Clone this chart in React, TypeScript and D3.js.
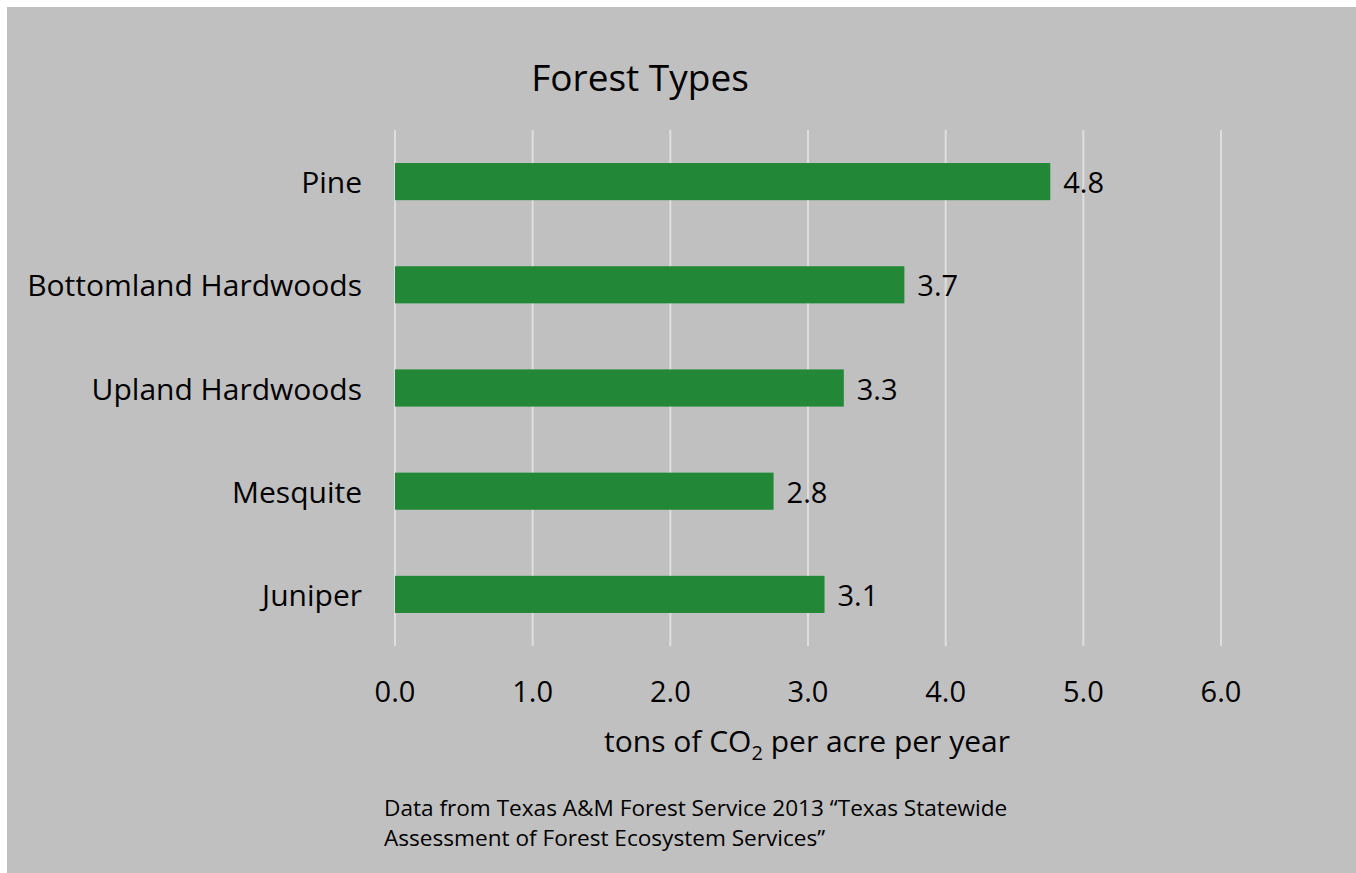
import React from "react";
import * as d3 from "d3";

const categories = ["Pine", "Bottomland Hardwoods", "Upland Hardwoods", "Mesquite", "Juniper"];
const values = [4.76, 3.7, 3.26, 2.75, 3.12];
const valueLabels = ["4.8", "3.7", "3.3", "2.8", "3.1"];
const xTicks = [0, 1, 2, 3, 4, 5, 6];
const title = "Forest Types";
const sourceLines = [
  "Data from Texas A&M Forest Service 2013 \u201cTexas Statewide",
  "Assessment of Forest Ecosystem Services\u201d",
];

const W = 1356;
const H = 873;
const FONT = "'Open Sans', sans-serif";

export default function App() {
  const x = d3.scaleLinear().domain([0, 6]).range([395, 1221]);
  const y = d3.scaleBand<string>().domain(categories).range([130, 646]).paddingInner(0.64).paddingOuter(0.32);
  return (
    <svg width={W} height={H} style={{ position: "absolute", left: 0, top: 0 }}>
      <rect x={0} y={0} width={W} height={H} fill="#ffffff" />
      <rect x={7} y={7} width={W - 7} height={H - 7} fill="#c0c0c0" />
      <text x={640} y={91} textAnchor="middle" fontFamily={FONT} fontSize={37} fill="#000">{title}</text>
      {xTicks.map((t) => (
        <line key={t} x1={x(t)} x2={x(t)} y1={130} y2={646} stroke="#dedede" strokeWidth={2} />
      ))}
      {categories.map((c, i) => (
        <g key={c}>
          <rect x={x(0)} y={y(c)} width={x(values[i]) - x(0)} height={y.bandwidth()} fill="#228837" />
          <text x={x(values[i]) + 13} y={(y(c) as number) + y.bandwidth() / 2} dominantBaseline="central" fontFamily={FONT} fontSize={29} fill="#000">{valueLabels[i]}</text>
          <text x={362} y={(y(c) as number) + y.bandwidth() / 2} dominantBaseline="central" textAnchor="end" fontFamily={FONT} fontSize={30} fill="#000">{c}</text>
        </g>
      ))}
      {xTicks.map((t) => (
        <text key={"l" + t} x={x(t)} y={690} dominantBaseline="central" textAnchor="middle" fontFamily={FONT} fontSize={29} fill="#000">{d3.format(".1f")(t)}</text>
      ))}
      <text x={807} y={752} textAnchor="middle" fontFamily={FONT} fontSize={30} fill="#000">
        tons of CO<tspan dy={8} fontSize={20}>2</tspan><tspan dy={-8}> per acre per year</tspan>
      </text>
      {sourceLines.map((s, i) => (
        <text key={i} x={384} y={816 + i * 30} fontFamily={FONT} fontSize={22.6} fill="#000">{s}</text>
      ))}
    </svg>
  );
}
